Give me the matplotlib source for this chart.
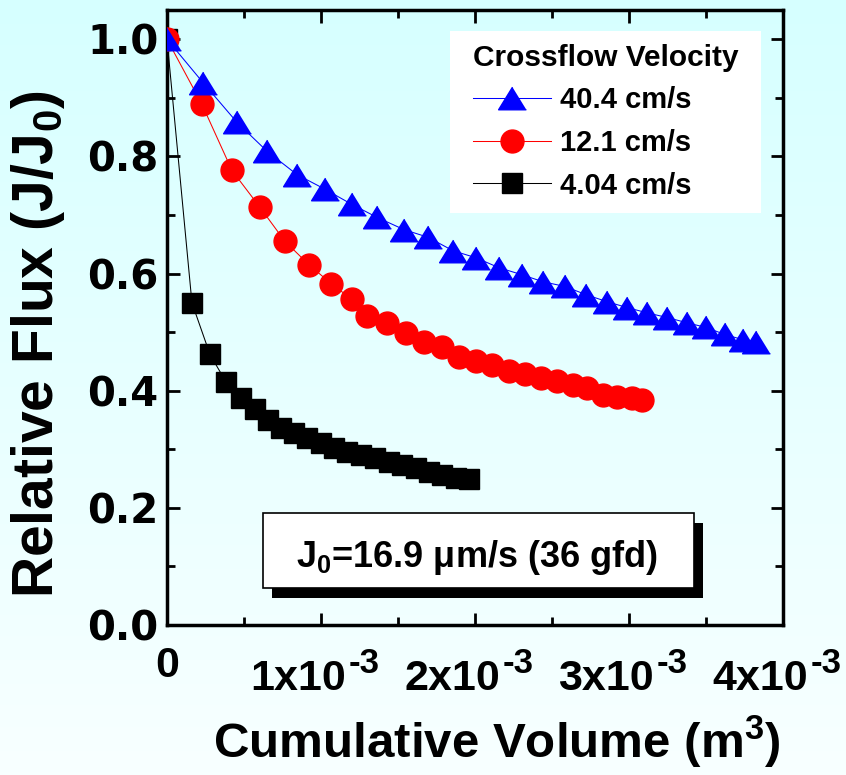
"""
Relative flux vs. cumulative permeate volume for three crossflow velocities
"""

import numpy as np
import matplotlib
matplotlib.use('Agg')
import matplotlib.pyplot as plt
from matplotlib.patches import Rectangle
from matplotlib.colors import LinearSegmentedColormap
from matplotlib.ticker import MultipleLocator, FuncFormatter, NullFormatter
from matplotlib.transforms import blended_transform_factory, ScaledTranslation

# fonts: Arial-like bold everywhere, mathtext in the same face
plt.rcParams['font.family'] = 'Liberation Sans'
plt.rcParams['font.weight'] = 'bold'
plt.rcParams['mathtext.fontset'] = 'custom'
plt.rcParams['mathtext.rm'] = 'Liberation Sans:bold'
plt.rcParams['mathtext.it'] = 'Liberation Sans:bold'
plt.rcParams['mathtext.bf'] = 'Liberation Sans:bold'
plt.rcParams['mathtext.default'] = 'bf'

# data (volume in 1e-3 m^3, flux as J/J0)
vol_40_4 = [0, 0.234, 0.455, 0.649, 0.844, 1.026, 1.201, 1.364, 1.539, 1.695,
            1.857, 2.006, 2.156, 2.305, 2.442, 2.584, 2.721, 2.857, 2.987, 3.117,
            3.247, 3.377, 3.500, 3.623, 3.740, 3.825]
flux_40_4 = [1.0, 0.926, 0.858, 0.809, 0.769, 0.744, 0.718, 0.696, 0.675, 0.662,
             0.639, 0.627, 0.610, 0.598, 0.586, 0.578, 0.564, 0.552, 0.542, 0.533,
             0.525, 0.516, 0.508, 0.496, 0.487, 0.484]

vol_12_1 = [0, 0.227, 0.422, 0.604, 0.766, 0.922, 1.065, 1.201, 1.299, 1.429,
            1.552, 1.669, 1.786, 1.896, 2.006, 2.110, 2.221, 2.325, 2.429, 2.532,
            2.636, 2.727, 2.831, 2.922, 3.019, 3.084]
flux_12_1 = [1.0, 0.889, 0.776, 0.713, 0.655, 0.615, 0.583, 0.556, 0.528, 0.516,
             0.499, 0.484, 0.474, 0.458, 0.451, 0.444, 0.434, 0.429, 0.422, 0.417,
             0.410, 0.405, 0.393, 0.390, 0.388, 0.385]

vol_4_04 = [0, 0.162, 0.279, 0.383, 0.481, 0.571, 0.656, 0.740, 0.825, 0.909,
            1.0, 1.084, 1.169, 1.260, 1.351, 1.442, 1.526, 1.617, 1.701, 1.786,
            1.877, 1.961]
flux_4_04 = [1.0, 0.550, 0.462, 0.415, 0.388, 0.369, 0.350, 0.337, 0.328, 0.320,
             0.311, 0.303, 0.296, 0.291, 0.285, 0.279, 0.274, 0.268, 0.262, 0.256,
             0.251, 0.250]

labels = ['40.4 cm/s', '12.1 cm/s', '4.04 cm/s']
x_ticks = [0, 1e-3, 2e-3, 3e-3, 4e-3]

fig = plt.figure(figsize=(8.46, 7.75), dpi=100)

# light cyan vertical gradient background
bg = fig.add_axes([0, 0, 1, 1], zorder=-10)
grad = np.linspace(0, 1, 256).reshape(-1, 1)
cmap = LinearSegmentedColormap.from_list('bg', ['#d6ffff', '#f8ffff'])
bg.imshow(grad, aspect='auto', cmap=cmap, extent=[0, 1, 0, 1], origin='upper')
bg.axis('off')

ax = fig.add_axes([167 / 846, 150 / 775, 616 / 846, 615 / 775])
ax.set_facecolor('none')

tri = [(0, 1), (-1.23, -1), (1.23, -1)]

def scaled(v):
    return np.array(v) * 1e-3

l3, = ax.plot(scaled(vol_4_04), flux_4_04, color='black', lw=0.75,
              marker='s', ms=15, mec='black', zorder=3)
l2, = ax.plot(scaled(vol_12_1), flux_12_1, color='red', lw=0.75,
              marker='o', ms=16.5, mec='red', zorder=4)
l1, = ax.plot(scaled(vol_40_4), flux_40_4, color='blue', lw=0.75,
              marker=tri, ms=20, mec='blue', zorder=5)

ax.set_xlim(0, 4e-3)
ax.set_ylim(0, 1.05)
ax.set_xticks(x_ticks)
ax.xaxis.set_minor_locator(MultipleLocator(0.5e-3))
ax.yaxis.set_major_locator(MultipleLocator(0.2))
ax.yaxis.set_minor_locator(MultipleLocator(0.1))
ax.xaxis.set_major_formatter(NullFormatter())
ax.yaxis.set_major_formatter(FuncFormatter(lambda v, p: '%.1f' % v))

ax.tick_params(which='both', direction='in', top=True, right=True, width=2)
ax.tick_params(which='major', length=9)
ax.tick_params(which='minor', length=5.5)
ax.tick_params(axis='y', labelsize=29, pad=6)
for s in ax.spines.values():
    s.set_linewidth(2.5)

for lbl in ax.get_yticklabels():
    lbl.set_fontfamily('DejaVu Sans')
    lbl.set_fontweight('bold')

# x tick labels "Nx10" with a raised "-3" (Origin style)
xt = blended_transform_factory(ax.transData, ax.transAxes)


def shift(dx, dy):
    return xt + ScaledTranslation(dx / 100, dy / 100, fig.dpi_scale_trans)


for v in x_ticks:
    n = int(round(v * 1000))
    if n == 0:
        ax.text(v, 0, '0', transform=shift(0, -52), ha='center', va='baseline',
                fontsize=31, clip_on=False)
    else:
        ax.text(v, 0, '%dx10' % n, transform=shift(25, -65), ha='right',
                va='baseline', fontsize=31, clip_on=False)
        ax.text(v, 0, '-3', transform=shift(28, -48), ha='left',
                va='baseline', fontsize=25, clip_on=False)

# legend: white panel + frameless legend on top
ax.add_patch(Rectangle((0.459, 0.670), 0.505, 0.296, transform=ax.transAxes,
                       facecolor='white', edgecolor='none', zorder=6))
leg = ax.legend([l1, l2, l3], labels, title='Crossflow Velocity',
                loc='upper left', bbox_to_anchor=(0.497, 0.945), borderaxespad=0,
                frameon=False, alignment='left', fontsize=21, title_fontsize=21.5,
                handlelength=2.67, handletextpad=0.3, labelspacing=0.5,
                borderpad=0, numpoints=1)
leg.get_title().set_fontweight('bold')
leg.set_zorder(7)

# J0 box with shadow
bx, by, bw, bh = 0.156, 0.060, 0.6995, 0.122
ax.add_patch(Rectangle((bx + 0.0146, by - 0.0163), bw, bh, transform=ax.transAxes,
                       facecolor='black', edgecolor='none', zorder=6))
ax.add_patch(Rectangle((bx, by), bw, bh, transform=ax.transAxes,
                       facecolor='white', edgecolor='black', lw=1.2, zorder=7))
ax.text(0.504, 0.0943, '$J_0$=16.9 μm/s (36 gfd)', transform=ax.transAxes,
        ha='center', va='baseline', fontsize=26, zorder=8)

# axis titles
fig.text(38 / 846, 1 - 344 / 775, 'Relative Flux (J/J$_0$)', rotation=90,
         ha='center', va='center', fontsize=41)
fig.text(497 / 846, 1 - 758 / 775, 'Cumulative Volume (m$^3$)',
         ha='center', va='baseline', fontsize=35.5)

plt.savefig('out.png', dpi=100, facecolor='white')
